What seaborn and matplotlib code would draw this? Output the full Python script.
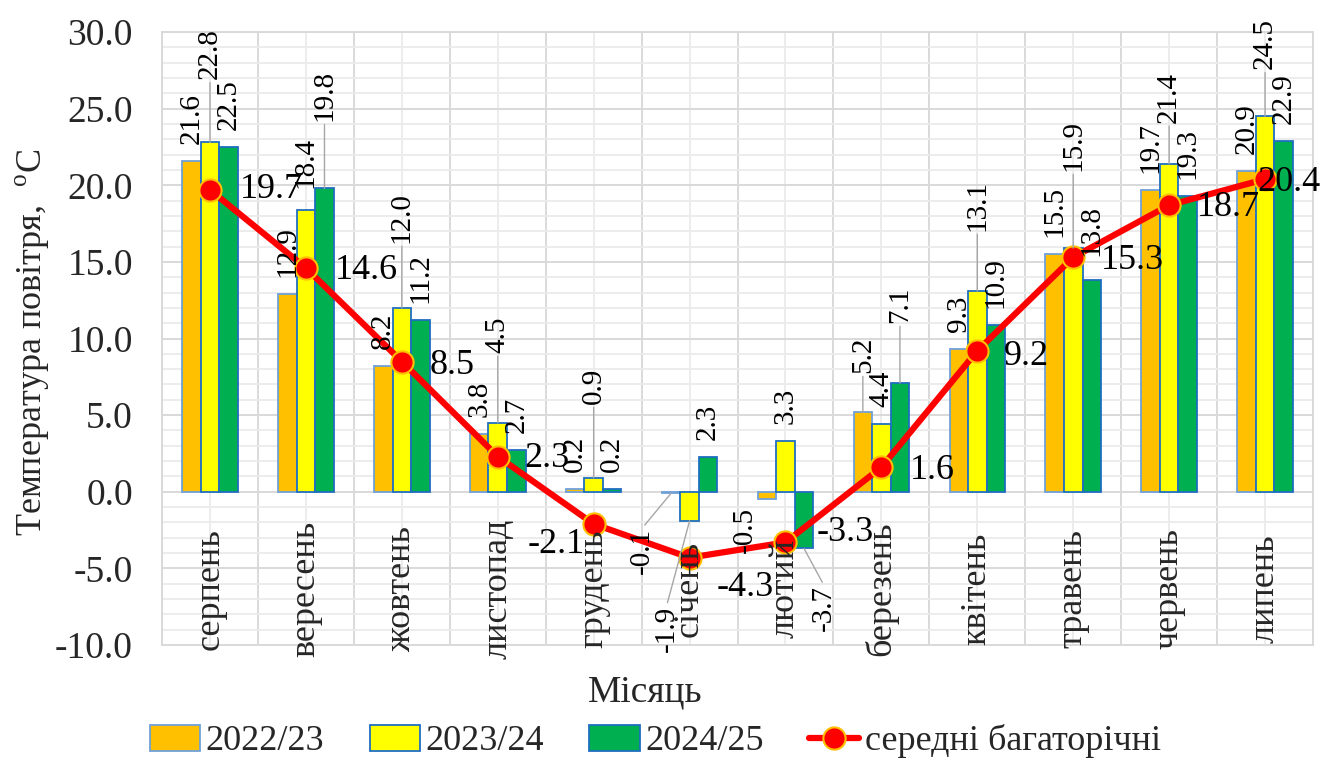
import numpy as np
import pandas as pd
import matplotlib.pyplot as plt
import seaborn as sns
from matplotlib.ticker import FormatStrFormatter

# monthly air temperature, three seasons + long-term mean
months = ["серпень", "вересень", "жовтень", "листопад", "грудень", "січень",
          "лютий", "березень", "квітень", "травень", "червень", "липень"]
seasons = ["2022/23", "2023/24", "2024/25"]
t_2022 = [21.6, 12.9, 8.2, 3.8, 0.2, -0.1, -0.5, 5.2, 9.3, 15.5, 19.7, 20.9]
t_2023 = [22.8, 18.4, 12.0, 4.5, 0.9, -1.9, 3.3, 4.4, 13.1, 15.9, 21.4, 24.5]
t_2024 = [22.5, 19.8, 11.2, 2.7, 0.2, 2.3, -3.7, 7.1, 10.9, 13.8, 19.3, 22.9]
t_mean = [19.7, 14.6, 8.5, 2.3, -2.1, -4.3, -3.3, 1.6, 9.2, 15.3, 18.7, 20.4]
mean_name = "середні багаторічні"

bar_colors = ["#FFC000", "#FFFF00", "#00B050"]
edge_colors = ["#6FA0D8", "#1F6FC0", "#1F6FC0"]

# hand-moved labels (pixels): extra shift away from the bar end, like in the excel original
nudge_2022 = [(0, 0)] * 5 + [(-29, 18), (-22, -10), (0, 22)] + [(0, 0)] * 4
nudge_2023 = [(0, 46), (0, 5), (0, 48), (0, 53), (0, 57), (-23, 68),
              (0, 0), (0, 0), (0, 43), (0, 60), (0, 24), (0, 30)]
nudge_2024 = [(0, 0), (0, 50), (0, 0), (0, 0), (0, 0), (0, 0),
              (20, 20), (0, 43), (0, 0), (0, 7), (0, 0), (0, 0)]
mean_nudge = [(30, 0), (29, -2), (28, -4), (27, -2), (-66, -21), (27, -30),
              (31, 10), (28, -3), (27, -6), (28, -3), (28, -2), (-8, -3)]

df = pd.DataFrame({
    "month": months * 3,
    "temp": t_2022 + t_2023 + t_2024,
    "season": np.repeat(seasons, len(months)),
})

sns.set_theme(style="white")
plt.rcParams["font.family"] = ["Liberation Serif", "DejaVu Serif"]
plt.rcParams["mathtext.fontset"] = "custom"
plt.rcParams["mathtext.rm"] = "Liberation Serif"
plt.rcParams["axes.unicode_minus"] = False

PX = 0.72  # points per pixel at dpi 100

fig = plt.figure(figsize=(13.24, 7.62), dpi=100)
ax = fig.add_axes([0.1224, 0.1535, 0.8693, 0.8045])

sns.barplot(data=df, x="month", y="temp", hue="season", palette=bar_colors,
            width=0.58, gap=0, saturation=1, errorbar=None, legend=False,
            ax=ax, zorder=3)
for cont, ec in zip(ax.containers, edge_colors):
    for p in cont:
        p.set_edgecolor(ec)
        p.set_linewidth(1.3)

sns.lineplot(x=np.arange(len(months)), y=t_mean, color="#FF0000", lw=4.5,
             marker="o", markersize=16, markerfacecolor="#FF0000",
             markeredgecolor="#FFC000", markeredgewidth=1.5, ax=ax, zorder=5)
line = ax.lines[-1]

# bar value labels
for cont, vals, nudges in zip(ax.containers, [t_2022, t_2023, t_2024],
                              [nudge_2022, nudge_2023, nudge_2024]):
    for p, v, (dx, dy) in zip(cont, vals, nudges):
        xc = p.get_x() + p.get_width() / 2
        sign = 1 if v >= 0 else -1
        off = (dx * PX, sign * (17 + dy) * PX)
        kw = {}
        if dy > 15:
            kw["arrowprops"] = dict(arrowstyle="-", color="#A6A6A6", lw=1,
                                    shrinkA=0, shrinkB=0,
                                    relpos=(0.5, 0) if v >= 0 else (0.5, 1))
        ax.annotate(f"{v:.1f}", (xc, v), xytext=off, textcoords="offset points",
                    rotation=90, rotation_mode="anchor",
                    ha="left" if v >= 0 else "right", va="center",
                    fontsize=21, color="black", zorder=6, **kw)

# long-term mean labels
for i, (v, (dx, dy)) in enumerate(zip(t_mean, mean_nudge)):
    ax.annotate(f"{v:.1f}", (i, v), xytext=(dx * PX, dy * PX),
                textcoords="offset points", ha="left", va="center",
                fontsize=26, color="black", zorder=6)

# month names sit under the zero line, as excel does
for i, m in enumerate(months):
    ax.annotate(m, (i, 0), xytext=(0, -97 * PX), textcoords="offset points",
                rotation=90, ha="center", va="center", fontsize=26, zorder=6)

ax.set_xlim(-0.5, len(months) - 0.5)
ax.set_ylim(-10, 30)
ax.set_yticks(np.arange(-10, 31, 5))
ax.set_yticks(np.arange(-10, 31, 1), minor=True)
ax.set_xticks(np.arange(-0.5, len(months), 1))
ax.set_xticks(np.arange(len(months)), minor=True)
ax.yaxis.set_major_formatter(FormatStrFormatter("%.1f"))
ax.tick_params(axis="y", which="both", labelsize=27, pad=21, length=0)
ax.tick_params(axis="x", which="both", labelbottom=False, length=0)
ax.grid(which="minor", color="#EBEBEB", lw=1.3, zorder=0)
ax.grid(which="major", color="#D9D9D9", lw=1.4, zorder=0)
ax.set_axisbelow(True)
ax.set_xlabel("")
ax.set_ylabel("")
for s in ax.spines.values():
    s.set_color("#D9D9D9")
    s.set_linewidth(1.4)

fig.text(0.025, 0.551, r"Температура повітря,  $^{\mathrm{o}}$C", rotation=90,
         ha="center", va="center", fontsize=26)
fig.text(0.487, 0.091, "Місяць", ha="center", va="center", fontsize=27)

fig.legend(handles=list(ax.containers) + [line], labels=seasons + [mean_name],
           loc="center", bbox_to_anchor=(0.495, 0.027), ncol=4, frameon=False,
           fontsize=26, handlelength=1.4, handleheight=0.74, handletextpad=0.15,
           columnspacing=1.25, borderpad=0.1)

fig.savefig("out.png", dpi=100)
